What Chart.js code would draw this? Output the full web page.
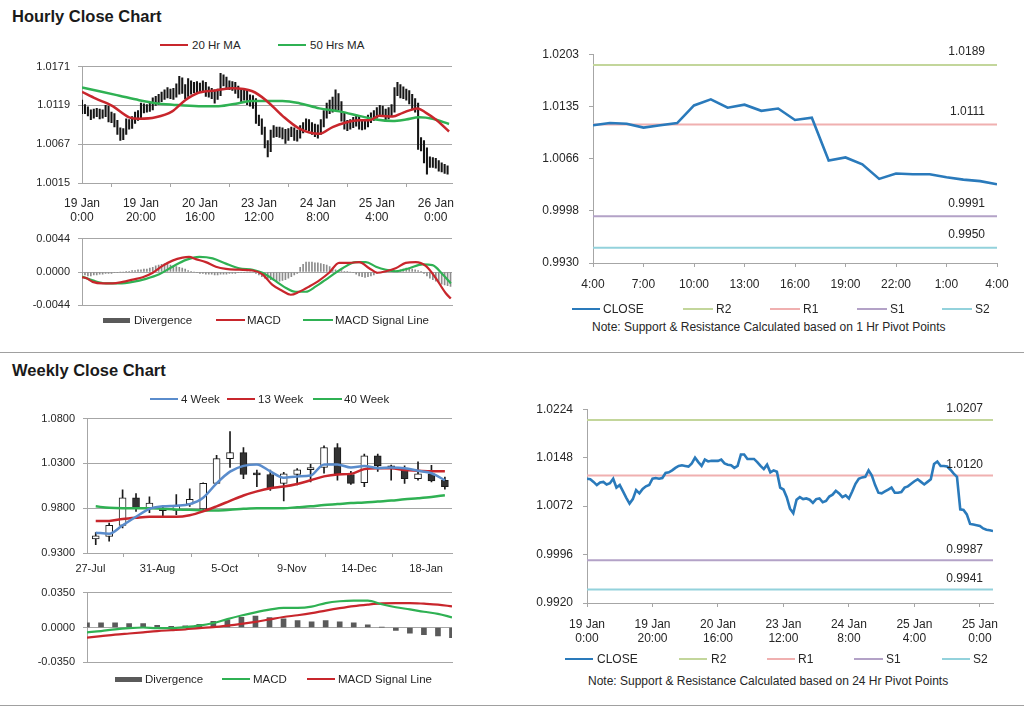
<!DOCTYPE html>
<html>
<head>
<meta charset="utf-8">
<script src="https://cdn.jsdelivr.net/npm/chart.js@4.4.1/dist/chart.umd.min.js"></script>
<style>
  body { margin: 0; background: #fff; width: 1024px; height: 706px; position: relative; overflow: hidden;
         font-family: "Liberation Sans", Arial, sans-serif; color: #262626; }
  canvas { position: absolute; }
  .ttl { position: absolute; left: 12px; font-weight: bold; font-size: 16.5px; line-height: 20px; color: #1a1a1a; }
  .sep { position: absolute; left: 0; width: 1024px; height: 1px; background: #a0a0a0; }
  .sw { position: absolute; }
  .lg { position: absolute; white-space: nowrap; transform: translateY(-50%); line-height: 14px; }
  .note { position: absolute; font-size: 12px; white-space: nowrap; transform: translateY(-50%); }
</style>
</head>
<body>
<div class="ttl" style="top:6px">Hourly Close Chart</div>
<div class="sep" style="top:352px"></div>
<div class="ttl" style="top:360px">Weekly Close Chart</div>
<div class="sep" style="top:705px"></div>
<div class="note" style="left:592px;top:327px">Note: Support &amp; Resistance Calculated based on 1 Hr Pivot Points</div>
<div class="note" style="left:588px;top:681px">Note: Support &amp; Resistance Calculated based on 24 Hr Pivot Points</div>

<canvas id="hourlyPrice"></canvas>
<canvas id="hourlyMacd"></canvas>
<canvas id="lastDay"></canvas>
<canvas id="weeklyPrice"></canvas>
<canvas id="weeklyMacd"></canvas>
<canvas id="hourlyPivot"></canvas>

<script>
// ── Hourly data (index = hours since 19 Jan 0:00) ──
const hourTicks = [0, 20, 40, 60, 80, 100, 120];
const hourLabelsTop = [['19 Jan', '0:00'], ['19 Jan', '20:00'], ['20 Jan', '16:00'], ['23 Jan', '12:00'], ['24 Jan', '8:00'], ['25 Jan', '4:00'], ['26 Jan', '0:00']];
const hourLabelsBottom = [['19 Jan', '0:00'], ['19 Jan', '20:00'], ['20 Jan', '16:00'], ['23 Jan', '12:00'], ['24 Jan', '8:00'], ['25 Jan', '4:00'], ['25 Jan', '0:00']];

const hourlyClose = [
  1.0115, 1.0114, 1.0110, 1.0105, 1.0109, 1.0110, 1.0106, 1.0108, 1.0115, 1.0101,
  1.0105, 1.0095, 1.0085, 1.0076, 1.0083, 1.0097, 1.0092, 1.0099, 1.0103, 1.0105,
  1.0115, 1.0116, 1.0115, 1.0116, 1.0124, 1.0125, 1.0128, 1.0132, 1.0135, 1.0136,
  1.0135, 1.0134, 1.0139, 1.0148, 1.0141, 1.0135, 1.0145, 1.0142, 1.0143, 1.0143,
  1.0143, 1.0145, 1.0139, 1.0137, 1.0136, 1.0132, 1.0135, 1.0153, 1.0153, 1.0146,
  1.0146, 1.0146, 1.0141, 1.0135, 1.0130, 1.0137, 1.0125, 1.0128, 1.0126, 1.0101,
  1.0098, 1.0086, 1.0068, 1.0061, 1.0082, 1.0086, 1.0083, 1.0084, 1.0082, 1.0077,
  1.0083, 1.0084, 1.0078, 1.0080, 1.0087, 1.0090, 1.0096, 1.0092, 1.0086, 1.0089,
  1.0084, 1.0095, 1.0107, 1.0115, 1.0117, 1.0118, 1.0128, 1.0120, 1.0105, 1.0093,
  1.0092, 1.0095, 1.0098, 1.0101, 1.0093, 1.0093, 1.0094, 1.0101, 1.0103, 1.0107,
  1.0111, 1.0114, 1.0110, 1.0106, 1.0110, 1.0114, 1.0138, 1.0142, 1.0135, 1.0135,
  1.0134, 1.0129, 1.0123, 1.0118, 1.0067, 1.0066, 1.0059, 1.0044, 1.0043, 1.0042,
  1.0041, 1.0037, 1.0035, 1.0034, 1.0033
];
const hourlyHigh = [
  1.0126, 1.0120, 1.0117, 1.0113, 1.0114, 1.0115, 1.0114, 1.0113, 1.0119, 1.0118,
  1.0110, 1.0108, 1.0099, 1.0089, 1.0088, 1.0101, 1.0100, 1.0104, 1.0110, 1.0112,
  1.0122, 1.0121, 1.0120, 1.0122, 1.0129, 1.0131, 1.0134, 1.0137, 1.0140, 1.0143,
  1.0141, 1.0142, 1.0148, 1.0158, 1.0156, 1.0147, 1.0155, 1.0152, 1.0150, 1.0151,
  1.0149, 1.0152, 1.0150, 1.0144, 1.0142, 1.0140, 1.0141, 1.0162, 1.0160, 1.0157,
  1.0152, 1.0151, 1.0150, 1.0145, 1.0140, 1.0141, 1.0140, 1.0133, 1.0132, 1.0128,
  1.0106, 1.0101, 1.0090, 1.0072, 1.0086, 1.0092, 1.0090, 1.0090, 1.0089, 1.0087,
  1.0088, 1.0090, 1.0089, 1.0086, 1.0092, 1.0096, 1.0101, 1.0100, 1.0096, 1.0094,
  1.0093, 1.0100, 1.0112, 1.0122, 1.0126, 1.0130, 1.0140, 1.0135, 1.0124, 1.0109,
  1.0099, 1.0100, 1.0103, 1.0106, 1.0105, 1.0099, 1.0100, 1.0106, 1.0109, 1.0112,
  1.0116, 1.0119, 1.0118, 1.0114, 1.0116, 1.0120, 1.0143, 1.0150, 1.0147, 1.0144,
  1.0141, 1.0139, 1.0134, 1.0128, 1.0122, 1.0076, 1.0072, 1.0062, 1.0050, 1.0049,
  1.0048, 1.0045, 1.0042, 1.0040, 1.0038
];
const hourlyLow = [
  1.0108, 1.0108, 1.0105, 1.0100, 1.0102, 1.0104, 1.0101, 1.0102, 1.0104, 1.0097,
  1.0096, 1.0090, 1.0080, 1.0072, 1.0073, 1.0080, 1.0087, 1.0088, 1.0095, 1.0099,
  1.0101, 1.0109, 1.0110, 1.0111, 1.0113, 1.0119, 1.0120, 1.0124, 1.0127, 1.0129,
  1.0128, 1.0127, 1.0130, 1.0134, 1.0135, 1.0128, 1.0131, 1.0134, 1.0136, 1.0135,
  1.0137, 1.0136, 1.0131, 1.0130, 1.0128, 1.0122, 1.0127, 1.0132, 1.0145, 1.0140,
  1.0140, 1.0139, 1.0135, 1.0129, 1.0124, 1.0126, 1.0120, 1.0118, 1.0115, 1.0095,
  1.0092, 1.0080, 1.0062, 1.0050, 1.0057, 1.0076, 1.0077, 1.0076, 1.0074, 1.0068,
  1.0072, 1.0077, 1.0072, 1.0071, 1.0075, 1.0082, 1.0086, 1.0085, 1.0080, 1.0077,
  1.0075, 1.0080, 1.0090, 1.0102, 1.0108, 1.0110, 1.0112, 1.0113, 1.0098, 1.0087,
  1.0085, 1.0087, 1.0089, 1.0091, 1.0087, 1.0086, 1.0087, 1.0090, 1.0096, 1.0099,
  1.0102, 1.0106, 1.0104, 1.0100, 1.0101, 1.0105, 1.0110, 1.0132, 1.0129, 1.0128,
  1.0126, 1.0121, 1.0114, 1.0110, 1.0060, 1.0058, 1.0042, 1.0027, 1.0036, 1.0036,
  1.0035, 1.0031, 1.0030, 1.0028, 1.0027
];

// moving averages, read at the bends (hour, value)
const ma20Hours = [0, 4.7, 10.4, 16, 19.4, 25, 30.6, 35, 39.5, 45.2, 51, 57.8, 62.4, 68, 73.7, 80.5, 85, 89.5, 94, 97.5, 100.9, 105.4, 108.8, 113.8, 116.7, 120, 124.5];
const ma20Values = [1.0137, 1.0128, 1.0118, 1.0103, 1.0101, 1.0103, 1.0111, 1.0126, 1.0136, 1.0139, 1.0142, 1.0138, 1.0126, 1.0105, 1.0088, 1.0081, 1.0090, 1.0096, 1.0099, 1.0099, 1.0105, 1.0104, 1.0109, 1.0115, 1.0109, 1.0100, 1.0084];
const ma50Hours = [0, 5.9, 12.7, 19.4, 25, 30.6, 39.6, 46.3, 53.1, 57.6, 62.4, 68, 73.7, 80.5, 87.3, 94, 99.7, 105.4, 109.9, 114.4, 118.9, 124.5];
const ma50Values = [1.0143, 1.0138, 1.0132, 1.0126, 1.0122, 1.0120, 1.0118, 1.0118, 1.0122, 1.0125, 1.0125, 1.0125, 1.0122, 1.0115, 1.0111, 1.0105, 1.0100, 1.0098, 1.0100, 1.0103, 1.0101, 1.0094];

const macdHours = [0, 1.4, 3.6, 7, 10.4, 13.8, 17.2, 20.6, 24, 27.3, 30.7, 34.1, 36.3, 38.6, 42, 45.4, 48.8, 53.3, 57.9, 61.2, 64.6, 68, 70.8, 73.7, 77.1, 80.5, 83.8, 87.2, 90.6, 94, 97.4, 100.2, 103.1, 106.4, 109.8, 113.2, 116.6, 120, 123.4, 125.1];
const macdValues = [-0.0007, -0.0008, -0.0013, -0.0015, -0.0015, -0.0013, -0.0010, -0.0007, -0.0001, 0.0008, 0.0015, 0.0019, 0.0020, 0.0017, 0.0013, 0.0007, 0.0004, 0.0003, 0.0002, -0.0003, -0.0017, -0.0025, -0.0030, -0.0026, -0.0019, -0.0011, -0.0001, 0.0012, 0.0012, 0.0013, 0.0005, -0.0001, 0.0001, 0.0005, 0.0012, 0.0013, 0.0008, -0.0008, -0.0028, -0.0035];
const signalHours = [0, 3.6, 8.1, 12.7, 17.2, 21.7, 26.2, 30.7, 35.3, 39.8, 44.3, 48.8, 53.3, 57.9, 61.2, 64.6, 69.2, 72.5, 75.9, 79.3, 83.8, 88.4, 92.9, 96.3, 99.7, 103.1, 106.4, 111, 115.5, 118.9, 122.3, 125.1];
const signalValues = [-0.0006, -0.0011, -0.0015, -0.0015, -0.0013, -0.0009, -0.0003, 0.0007, 0.0016, 0.0020, 0.0018, 0.0011, 0.0005, 0.0003, -0.0001, -0.0009, -0.0021, -0.0026, -0.0026, -0.0019, -0.0007, 0.0005, 0.0013, 0.0013, 0.0007, 0.0003, 0.0001, 0.0005, 0.0010, 0.0009, -0.0003, -0.0015];
const hourlyDivergence = [
  -0.0003, -0.0004, -0.0005, -0.0005, -0.0004, -0.0004, -0.0003, -0.0003, -0.0002, -0.0002,
  -0.0002, -0.0001, -0.0001, 0, 0, 0.0001, 0.0001, 0.0002, 0.0002, 0.0003,
  0.0003, 0.0004, 0.0004, 0.0005, 0.0006, 0.0008, 0.0009, 0.0010, 0.0011, 0.0010,
  0.0009, 0.0008, 0.0007, 0.0006, 0.0005, 0.0004, 0.0002, 0.0001, 0, -0.0001,
  -0.0002, -0.0002, -0.0003, -0.0003, -0.0003, -0.0004, -0.0004, -0.0003, -0.0003, -0.0003,
  -0.0002, -0.0002, -0.0002, -0.0001, -0.0001, -0.0001, 0, 0, 0, -0.0002,
  -0.0004, -0.0006, -0.0008, -0.0009, -0.0010, -0.0011, -0.0012, -0.0012, -0.0011, -0.0010,
  -0.0008, -0.0006, -0.0004, -0.0002, 0.0006, 0.0010, 0.0013, 0.0013, 0.0013, 0.0012,
  0.0012, 0.0011, 0.0010, 0.0009, 0.0007, 0.0005, 0.0003, 0.0002, 0.0002, 0.0001,
  0.0001, 0, -0.0001, -0.0003, -0.0005, -0.0006, -0.0007, -0.0006, -0.0005, -0.0004,
  -0.0002, -0.0001, 0, 0, 0.0001, 0.0001, 0.0002, 0.0002, 0.0003, 0.0004,
  0.0005, 0.0005, 0.0004, 0.0003, 0.0002, 0.0001, -0.0002, -0.0005, -0.0008, -0.0010,
  -0.0012, -0.0014, -0.0016, -0.0017, -0.0018, -0.0019
];

// ── Last 24 hours (4:00 → 4:00) ──
const dayTicks = [0, 3, 6, 9, 12, 15, 18, 21, 24];
const dayLabels = ['4:00', '7:00', '10:00', '13:00', '16:00', '19:00', '22:00', '1:00', '4:00'];
const lastDayClose = [1.0110, 1.0113, 1.0112, 1.0107, 1.0110, 1.0113, 1.0136, 1.0144, 1.0133, 1.0137, 1.0129, 1.0132, 1.0117, 1.0120, 1.0064, 1.0068, 1.0059, 1.0040, 1.0047, 1.0046, 1.0046, 1.0042, 1.0039, 1.0037, 1.0033];

const pivotNames = ['R2', 'R1', 'S1', 'S2'];
const pivotColors = ['#c3d69b', '#f0b0b0', '#b3a2c7', '#93d2dc'];
const pivot1h = [1.0189, 1.0111, 0.9991, 0.9950];
const pivot24h = [1.0207, 1.0120, 0.9987, 0.9941];

// ── Weekly data ──
const weekTicks = [-0.4, 4.6, 9.6, 14.6, 19.6, 24.6];
const weekLabels = ['27-Jul', '31-Aug', '5-Oct', '9-Nov', '14-Dec', '18-Jan'];
const weeklyOpen  = [0.9456, 0.9484, 0.9609, 0.9917, 0.9800, 0.9778, 0.9775, 0.9846, 0.9793, 1.0077, 1.0353, 1.0421, 1.0176, 1.0176, 1.0077, 1.0176, 1.0229, 1.0254, 1.0477, 1.0176, 1.0084, 1.0385, 1.0272, 1.0247, 1.0130, 1.0183, 1.0112];
const weeklyHigh  = [0.9527, 0.9633, 1.0006, 0.9963, 0.9928, 0.9811, 0.9953, 1.0016, 1.0084, 1.0389, 1.0655, 1.0477, 1.0226, 1.0226, 1.0201, 1.0243, 1.0289, 1.0495, 1.0520, 1.0211, 1.0403, 1.0403, 1.0282, 1.0272, 1.0318, 1.0279, 1.0148];
const weeklyLow   = [0.9392, 0.9431, 0.9580, 0.9765, 0.9750, 0.9694, 0.9729, 0.9821, 0.9765, 1.0077, 1.0254, 1.0130, 1.0041, 0.9999, 0.9882, 1.0059, 1.0094, 1.0190, 1.0112, 1.0066, 1.0041, 1.0211, 1.0112, 1.0077, 1.0112, 1.0094, 1.0013];
const weeklyClose = [0.9492, 0.9609, 0.9917, 0.9804, 0.9857, 0.9772, 0.9836, 0.9899, 1.0077, 1.0353, 1.0421, 1.0176, 1.0172, 1.0023, 1.0183, 1.0229, 1.0254, 1.0477, 1.0183, 1.0077, 1.0385, 1.0272, 1.0247, 1.0130, 1.0183, 1.0105, 1.0041];
const ma4w  = [0.9527, 0.9516, 0.9609, 0.9704, 0.9793, 0.9821, 0.9828, 0.9846, 0.9917, 1.0077, 1.0208, 1.0272, 1.0289, 1.0211, 1.0140, 1.0155, 1.0165, 1.0289, 1.0289, 1.0254, 1.0272, 1.0247, 1.0254, 1.0247, 1.0218, 1.0190, 1.0112];
const ma13w = [0.9658, 0.9658, 0.9680, 0.9694, 0.9704, 0.9704, 0.9704, 0.9722, 0.9765, 0.9821, 0.9882, 0.9942, 0.9988, 1.0023, 1.0041, 1.0070, 1.0112, 1.0155, 1.0176, 1.0183, 1.0236, 1.0247, 1.0247, 1.0226, 1.0218, 1.0211, 1.0211];
const ma40w = [0.9821, 0.9804, 0.9800, 0.9800, 0.9800, 0.9793, 0.9786, 0.9782, 0.9775, 0.9775, 0.9782, 0.9793, 0.9800, 0.9800, 0.9800, 0.9811, 0.9821, 0.9836, 0.9846, 0.9857, 0.9864, 0.9875, 0.9885, 0.9899, 0.9910, 0.9924, 0.9945];
const weeklyMacd   = [-0.0048, -0.0036, -0.0018, -0.0006, 0.0000, -0.0006, -0.0006, 0.0003, 0.0018, 0.0045, 0.0084, 0.0120, 0.0152, 0.0179, 0.0197, 0.0197, 0.0209, 0.0245, 0.0263, 0.0269, 0.0269, 0.0233, 0.0203, 0.0182, 0.0158, 0.0137, 0.0102];
const weeklySignal = [-0.0102, -0.0087, -0.0072, -0.0060, -0.0048, -0.0036, -0.0027, -0.0018, -0.0006, 0.0003, 0.0018, 0.0036, 0.0057, 0.0081, 0.0105, 0.0123, 0.0144, 0.0170, 0.0194, 0.0215, 0.0230, 0.0242, 0.0245, 0.0245, 0.0239, 0.0230, 0.0212];
const weeklyDivergence = [0.0048, 0.0048, 0.0048, 0.0039, 0.0039, 0.0021, 0.0012, 0.0018, 0.0033, 0.0063, 0.0078, 0.0102, 0.0114, 0.0099, 0.0087, 0.0069, 0.0057, 0.0069, 0.0057, 0.0048, 0.0027, 0.0003, -0.0030, -0.0057, -0.0072, -0.0084, -0.0102];

// ── Colours ──
const RED = '#c8262c';
const GREEN = '#2fb153';
const BLUE4 = '#5a8ccc';
const CLOSE_BLUE = '#2a7abb';
const GRID = '#a6a6a6';

Chart.defaults.font.family = '"Liberation Sans", Arial, sans-serif';
Chart.defaults.color = '#262626';
Chart.defaults.animation = false;
Chart.defaults.plugins.legend.display = false;
Chart.defaults.plugins.tooltip.enabled = false;

// place a canvas so the plot area lands on the given rectangle
function placeCanvas(id, plot, yW, xH, padT, padR) {
  const c = document.getElementById(id);
  const left = plot.l - yW, top = plot.t - padT;
  const w = plot.r + padR - left, h = plot.b + xH - top;
  c.width = w; c.height = h;
  c.style.left = left + 'px'; c.style.top = top + 'px';
  c.style.width = w + 'px'; c.style.height = h + 'px';
  return { ctx: c.getContext('2d'), layout: { padding: { top: padT, right: padR, left: 0, bottom: 0 } } };
}

function yAxis(min, max, ticks, o) {
  return {
    min, max,
    afterBuildTicks: s => { s.ticks = ticks.map(v => ({ value: v })); },
    afterFit: s => { s.width = o.w; },
    ticks: { callback: v => v.toFixed(4), font: { size: o.fs }, padding: o.pad },
    grid: { drawOnChartArea: o.grid, color: GRID, tickColor: GRID, tickLength: 4 },
    border: { color: GRID }
  };
}

function xAxis(min, max, ticks, labels, o) {
  return {
    type: 'linear', min, max, offset: false,
    afterBuildTicks: s => { s.ticks = ticks.map(v => ({ value: v })); },
    afterFit: s => { s.height = o.h; },
    ticks: { display: !!labels, callback: (v, i) => labels ? labels[i] : '', font: { size: o.fs || 12 }, padding: o.pad || 0, maxRotation: 0, autoSkip: false },
    grid: { drawOnChartArea: false, drawTicks: !!labels, color: GRID, tickColor: GRID, tickLength: 4 },
    border: { color: GRID }
  };
}

const pts = (xs, ys) => ys.map((y, i) => ({ x: xs[i], y }));
const idx = ys => ys.map((y, i) => ({ x: i, y }));

function lineDs(data, color, width, smooth) {
  return { type: 'line', data, borderColor: color, backgroundColor: color, borderWidth: width, pointRadius: 0,
           tension: smooth ? 0.4 : 0, cubicInterpolationMode: smooth ? 'monotone' : 'default', order: 0 };
}

// pivot level labels above the horizontal lines
const pivotLabels = {
  id: 'pivotLabels',
  afterDatasetsDraw(chart, args, opts) {
    const { ctx, chartArea, scales: { y } } = chart;
    ctx.save();
    ctx.font = '12px "Liberation Sans", Arial, sans-serif';
    ctx.fillStyle = '#262626';
    ctx.textAlign = 'right';
    ctx.textBaseline = 'middle';
    opts.values.forEach(v => ctx.fillText(v.toFixed(4), chartArea.right - opts.inset, y.getPixelForValue(v) - opts.lift));
    ctx.restore();
  }
};

// ── Hourly close with candles ──
function renderHourlyPrice() {
  const p = placeCanvas('hourlyPrice', { l: 82, r: 452, t: 62, b: 183 }, 62, 42, 10, 30);
  new Chart(p.ctx, {
    type: 'bar',
    data: {
      datasets: [
        lineDs(pts(ma20Hours, ma20Values), RED, 2.5, true),
        lineDs(pts(ma50Hours, ma50Values), GREEN, 2.5, true),
        { type: 'bar', data: hourlyHigh.map((h, i) => ({ x: i, y: [hourlyLow[i], h] })), backgroundColor: '#151515',
          barThickness: 1.4, grouped: false, order: 2 }
      ]
    },
    options: {
      responsive: false, layout: p.layout,
      scales: {
        x: xAxis(0, 125.5, hourTicks, hourLabelsTop, { h: 42, fs: 12, pad: 9 }),
        y: yAxis(1.0015, 1.0171, [1.0015, 1.0067, 1.0119, 1.0171], { w: 62, fs: 11, pad: 8, grid: true })
      }
    }
  });
}

function renderHourlyMacd() {
  const p = placeCanvas('hourlyMacd', { l: 82, r: 452, t: 234, b: 310 }, 62, 10, 10, 30);
  new Chart(p.ctx, {
    type: 'bar',
    data: {
      datasets: [
        lineDs(pts(macdHours, macdValues), RED, 2.2, true),
        lineDs(pts(signalHours, signalValues), GREEN, 2.2, true),
        { type: 'bar', data: idx(hourlyDivergence), backgroundColor: '#8c8c8c', barThickness: 1, grouped: false, order: 2 }
      ]
    },
    options: {
      responsive: false, layout: p.layout,
      scales: {
        x: xAxis(0, 125.5, hourTicks, null, { h: 10 }),
        y: yAxis(-0.0044, 0.0044, [-0.0044, 0, 0.0044], { w: 62, fs: 11, pad: 8, grid: true })
      }
    }
  });
}

function pivotDatasets(values, xMax) {
  return values.map((v, i) => ({
    type: 'line', label: pivotNames[i], data: [{ x: 0, y: v }, { x: xMax, y: v }],
    borderColor: pivotColors[i], borderWidth: 2, pointRadius: 0, order: 1
  }));
}

function renderLastDay() {
  const p = placeCanvas('lastDay', { l: 593, r: 997, t: 47, b: 263 }, 70, 32, 10, 22);
  new Chart(p.ctx, {
    type: 'line',
    data: { datasets: [lineDs(idx(lastDayClose), CLOSE_BLUE, 2.6, false), ...pivotDatasets(pivot1h, 24)] },
    options: {
      responsive: false, layout: p.layout,
      plugins: { pivotLabels: { values: pivot1h, inset: 12, lift: 13 } },
      scales: {
        x: xAxis(0, 24, dayTicks, dayLabels, { h: 32, fs: 12, pad: 10 }),
        y: yAxis(0.9930, 1.0203, [0.9930, 0.9998, 1.0066, 1.0135, 1.0203], { w: 70, fs: 12, pad: 10, grid: false })
      }
    },
    plugins: [pivotLabels]
  });
}

function renderHourlyPivot() {
  const p = placeCanvas('hourlyPivot', { l: 587, r: 993, t: 402, b: 603 }, 67, 46, 10, 26);
  new Chart(p.ctx, {
    type: 'line',
    data: { datasets: [lineDs(idx(hourlyClose), CLOSE_BLUE, 2.6, false), ...pivotDatasets(pivot24h, 124)] },
    options: {
      responsive: false, layout: p.layout,
      plugins: { pivotLabels: { values: pivot24h, inset: 10, lift: 11 } },
      scales: {
        x: xAxis(0, 124, hourTicks, hourLabelsBottom, { h: 46, fs: 12, pad: 10 }),
        y: yAxis(0.9920, 1.0224, [0.9920, 0.9996, 1.0072, 1.0148, 1.0224], { w: 67, fs: 12, pad: 10, grid: false })
      }
    },
    plugins: [pivotLabels]
  });
}

// ── Weekly candles ──
function renderWeeklyPrice() {
  const p = placeCanvas('weeklyPrice', { l: 87, r: 452, t: 412, b: 553 }, 67, 26, 8, 30);
  new Chart(p.ctx, {
    type: 'bar',
    data: {
      datasets: [
        lineDs(idx(ma4w), BLUE4, 2.5, true),
        lineDs(idx(ma13w), RED, 2.5, true),
        lineDs(idx(ma40w), GREEN, 2.5, true),
        { type: 'bar', data: weeklyOpen.map((o, i) => ({ x: i, y: [o, weeklyClose[i]] })),
          backgroundColor: weeklyOpen.map((o, i) => weeklyClose[i] >= o ? '#ffffff' : '#333333'),
          borderColor: '#1a1a1a', borderWidth: 1, borderSkipped: false, minBarLength: 2,
          barThickness: 7, grouped: false, order: 1 },
        { type: 'bar', data: weeklyHigh.map((h, i) => ({ x: i, y: [weeklyLow[i], h] })), backgroundColor: '#1a1a1a',
          barThickness: 1, grouped: false, order: 2 }
      ]
    },
    options: {
      responsive: false, layout: p.layout,
      scales: {
        x: xAxis(-0.65, 26.53, weekTicks, weekLabels, { h: 26, fs: 11, pad: 5 }),
        y: yAxis(0.93, 1.08, [0.93, 0.98, 1.03, 1.08], { w: 67, fs: 11, pad: 8, grid: true })
      }
    }
  });
}

function renderWeeklyMacd() {
  const p = placeCanvas('weeklyMacd', { l: 87, r: 452, t: 588, b: 667 }, 67, 10, 10, 30);
  new Chart(p.ctx, {
    type: 'bar',
    data: {
      datasets: [
        lineDs(idx(weeklyMacd), GREEN, 2.2, true),
        lineDs(idx(weeklySignal), RED, 2.2, true),
        { type: 'bar', data: idx(weeklyDivergence), backgroundColor: '#5a5a5a', barThickness: 5, grouped: false, order: 2 }
      ]
    },
    options: {
      responsive: false, layout: p.layout,
      scales: {
        x: xAxis(0, 26, [0, 26], null, { h: 10 }),
        y: yAxis(-0.035, 0.035, [-0.035, 0, 0.035], { w: 67, fs: 11, pad: 8, grid: true })
      }
    }
  });
}

// ── HTML legends: [lineStart, lineEnd, textX, y, colour, text, thickness] ──
function legend(items, size) {
  items.forEach(([x1, x2, tx, y, color, text, thick]) => {
    const sw = document.createElement('div');
    sw.className = 'sw';
    sw.style.cssText = `left:${x1}px;top:${y - thick / 2}px;width:${x2 - x1}px;height:${thick}px;background:${color}`;
    document.body.appendChild(sw);
    const t = document.createElement('div');
    t.className = 'lg';
    t.textContent = text;
    t.style.left = tx + 'px'; t.style.top = y + 'px'; t.style.fontSize = size + 'px';
    document.body.appendChild(t);
  });
}

renderHourlyPrice();
renderHourlyMacd();
renderLastDay();
renderHourlyPivot();
renderWeeklyPrice();
renderWeeklyMacd();

legend([[160, 188, 192, 45, RED, '20 Hr MA', 2], [278, 306, 310, 45, GREEN, '50 Hrs MA', 2]], 11.5);
legend([[103, 130, 134, 320, '#5a5a5a', 'Divergence', 5], [216, 245, 247, 320, RED, 'MACD', 2], [303, 333, 335, 320, GREEN, 'MACD Signal Line', 2]], 11.5);
legend([[572, 600, 603, 309, CLOSE_BLUE, 'CLOSE', 2], [683, 713, 716, 309, pivotColors[0], 'R2', 2], [770, 800, 803, 309, pivotColors[1], 'R1', 2],
        [857, 887, 890, 309, pivotColors[2], 'S1', 2], [942, 972, 975, 309, pivotColors[3], 'S2', 2]], 12);
legend([[150, 178, 181, 399, BLUE4, '4 Week', 2], [227, 255, 258, 399, RED, '13 Week', 2], [313, 342, 344, 399, GREEN, '40 Week', 2]], 11.5);
legend([[115, 142, 145, 679, '#5a5a5a', 'Divergence', 5], [222, 250, 253, 679, GREEN, 'MACD', 2], [307, 335, 338, 679, RED, 'MACD Signal Line', 2]], 11.5);
legend([[565, 593, 597, 659, CLOSE_BLUE, 'CLOSE', 2], [679, 707, 711, 659, pivotColors[0], 'R2', 2], [767, 795, 798, 659, pivotColors[1], 'R1', 2],
        [854, 883, 886, 659, pivotColors[2], 'S1', 2], [942, 970, 973, 659, pivotColors[3], 'S2', 2]], 12);
</script>
</body>
</html>
